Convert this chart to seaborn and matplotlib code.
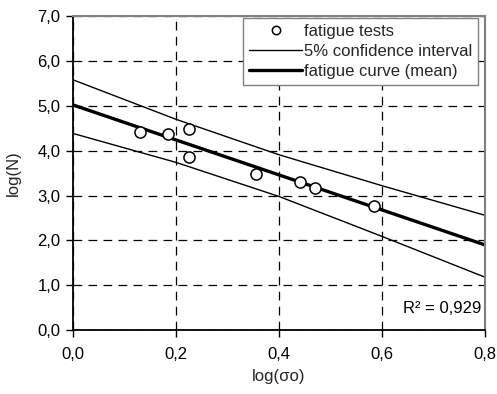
import numpy as np
import pandas as pd
import matplotlib
matplotlib.use("Agg")
import matplotlib.pyplot as plt
import seaborn as sns
from matplotlib.ticker import FuncFormatter

# fatigue test points
log_sigma = [0.13, 0.185, 0.225, 0.225, 0.355, 0.44, 0.47, 0.585]
log_n = [4.42, 4.38, 4.49, 3.87, 3.49, 3.31, 3.18, 2.77]

# curve and confidence band read at these x
x_line = [0.0, 0.2, 0.4, 0.6, 0.8]
mean_curve = [5.02, 4.24, 3.46, 2.68, 1.90]
upper_band = [5.58, 4.70, 3.91, 3.22, 2.56]
lower_band = [4.385, 3.74, 2.98, 2.09, 1.18]

x_ticks = [0.0, 0.2, 0.4, 0.6, 0.8]
y_ticks = [0, 1, 2, 3, 4, 5, 6, 7]
r2_text = "R² = 0,929"

sns.set_style("white")
plt.rcParams["font.family"] = ["Liberation Sans", "DejaVu Sans"]

pts = pd.DataFrame({"x": log_sigma, "y": log_n})
lines = pd.DataFrame({"x": x_line, "mean": mean_curve,
                      "up": upper_band, "low": lower_band})

fig = plt.figure(figsize=(4.97, 3.94), dpi=100)
ax = fig.add_axes([0.147, 0.162, 0.829, 0.797])

sns.lineplot(data=lines, x="x", y="up", color="black", linewidth=1.0,
             ax=ax, label="5% confidence interval")
sns.lineplot(data=lines, x="x", y="low", color="black", linewidth=1.0, ax=ax)
sns.lineplot(data=lines, x="x", y="mean", color="black", linewidth=2.4,
             ax=ax, label="fatigue curve (mean)")
ax.plot(pts["x"], pts["y"], linestyle="none", marker="o", markersize=8,
        markerfacecolor="white", markeredgecolor="black", markeredgewidth=1.1,
        label="fatigue tests", zorder=5)

ax.set_xlim(0, 0.8)
ax.set_ylim(0, 7)
ax.set_xticks(x_ticks)
ax.set_yticks(y_ticks)
fmt = FuncFormatter(lambda v, p: f"{v:.1f}".replace(".", ","))
ax.xaxis.set_major_formatter(fmt)
ax.yaxis.set_major_formatter(fmt)
ax.tick_params(axis="both", labelsize=12, length=5, width=1, direction="out",
               color="black", labelcolor="black", left=True, bottom=True)
ax.tick_params(axis="x", pad=7)
ax.tick_params(axis="y", pad=4)

ax.grid(True, color="black", linestyle=(0, (7, 5)), linewidth=0.9)
ax.set_axisbelow(True)

for s in ["left", "bottom"]:
    ax.spines[s].set_color("black")
    ax.spines[s].set_linewidth(1.3)
for s in ["top", "right"]:
    ax.spines[s].set_color("#808080")
    ax.spines[s].set_linewidth(1.5)

ax.set_xlabel("log(σo)", fontsize=12, labelpad=5)
ax.set_ylabel("log(N)", fontsize=12, labelpad=12)

handles, labels = ax.get_legend_handles_labels()
order = [labels.index("fatigue tests"), labels.index("5% confidence interval"),
         labels.index("fatigue curve (mean)")]
leg = ax.legend([handles[i] for i in order], [labels[i] for i in order],
                loc="upper right", bbox_to_anchor=(0.983, 0.994), fontsize=12,
                frameon=True, fancybox=False, framealpha=1, edgecolor="#808080",
                borderpad=0.35, labelspacing=0.3, handlelength=3.2,
                handletextpad=0.1, borderaxespad=0.0)
leg.get_frame().set_linewidth(1.0)
for h in leg.legend_handles:
    if h.get_marker() == "o":
        h.set_markersize(6)

ax.text(0.792, 0.49, r2_text, ha="right", va="center", fontsize=12,
        color="black")

fig.savefig("out.png", dpi=100)
